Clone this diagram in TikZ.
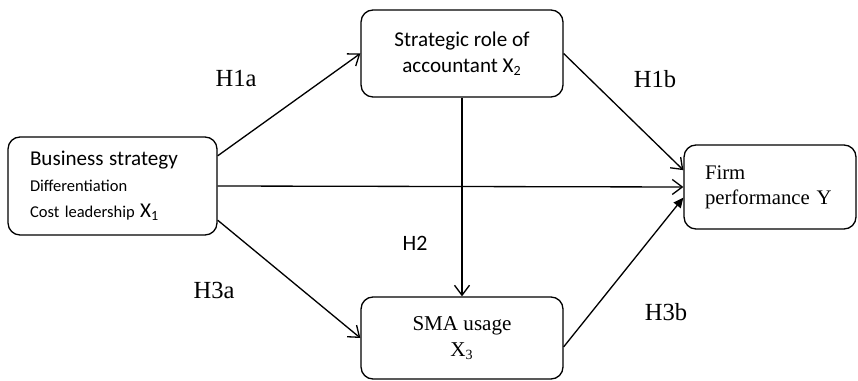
\documentclass[tikz,border=0pt]{standalone}
\usepackage{fontspec}
\setmainfont{Liberation Serif}
\newfontfamily\calibri{Carlito}
\usetikzlibrary{arrows.meta}

\tikzset{
  box/.style={draw, rounded corners=0.24cm, line width=0.75pt},
  link/.style={line width=0.75pt, -{Straight Barb[length=0.2cm,width=0.3cm]}},
  fatlink/.style={line width=0.75pt, -{Triangle[length=0.2cm,width=0.18cm]}},
  hyp/.style={font=\fontsize{14}{16}\selectfont},
}

\begin{document}
\begin{tikzpicture}[x=0.02cm, y=-0.02cm]

\useasboundingbox (0,0) rectangle (858,381);

% Boxes
\node[box, minimum height=1.96cm, text width=3.3cm, inner xsep=0.44cm, align=left,
      font=\calibri\fontsize{9.4}{14.8}\selectfont] (bs) at (112.5,186)
  {{\fontsize{12}{14.8}\selectfont Business strategy}\\ Differentiation\\
   Cost leadership {\fontsize{12}{14.8}\selectfont X\textsubscript{1}}};
\node[box, minimum width=4.04cm, minimum height=1.74cm, align=center,
      font=\calibri\fontsize{12}{14.8}\selectfont] (strat) at (462,53.5)
  {Strategic role of\\accountant X\textsubscript{2}};
\node[box, minimum width=4.04cm, minimum height=1.64cm, align=center,
      font=\fontsize{12}{14.8}\selectfont] (sma) at (462,338)
  {SMA usage\\X\textsubscript{3}};
\node[box, minimum height=1.68cm, text width=2.6cm, inner xsep=0.42cm, align=left,
      font=\fontsize{11.8}{14.2}\selectfont] (firm) at (770,187)
  {Firm\\performance Y};

% Paths
\draw[link] (bs.16) -- (strat.west);
\draw[link] (strat.east) -- (firm.169);
\draw[link] (bs.east) -- (firm.west);
\draw[link] (strat.south) -- (sma.north);
\draw[link] (bs.-18.5) -- (sma.west);
\draw[fatlink] (sma.-5) -- (firm.187);

% Hypotheses
\node[hyp] (h1a) at (236,79) {H1a};
\node[hyp] (h1b) at (655,79) {H1b};
\node[font=\calibri\fontsize{12.5}{15}\selectfont] (h2) at (415,243) {H2};
\node[hyp] (h3a) at (214,290) {H3a};
\node[hyp] (h3b) at (666,312) {H3b};

\end{tikzpicture}
\end{document}
